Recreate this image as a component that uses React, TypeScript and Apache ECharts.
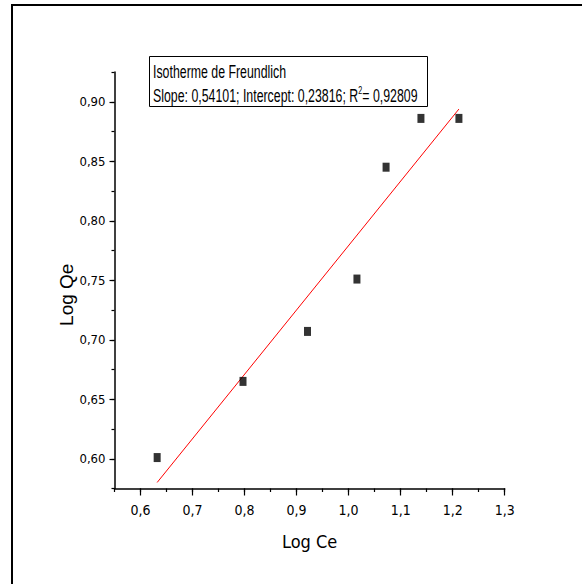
import React, { useEffect, useRef } from "react";
import * as echarts from "echarts";

// Freundlich isotherm points (log scale)
const logCe = [0.632, 0.797, 0.921, 1.016, 1.072, 1.139, 1.212];
const logQe = [0.601, 0.665, 0.707, 0.751, 0.845, 0.886, 0.886];

// Linear fit results
const slope = 0.54101;
const intercept = 0.23816;
const rSquared = 0.92809;

// Axis ranges and tick values
const xRange = [0.55, 1.3];
const yRange = [0.575, 0.925];
const xMajorTicks = [0.6, 0.7, 0.8, 0.9, 1.0, 1.1, 1.2, 1.3];
const yMajorTicks = [0.6, 0.65, 0.7, 0.75, 0.8, 0.85, 0.9];

const titleText = "Isotherme de Freundlich";
const xName = "Log Ce";
const yName = "Log Qe";

const NARROW = "'Liberation Sans Narrow', 'Arial Narrow', 'DejaVu Sans Condensed', sans-serif";
const SANS = "'Liberation Sans', Arial, sans-serif";

const comma = (v: number, d: number) => v.toFixed(d).replace(".", ",");

export default function App() {
  const ref = useRef<HTMLDivElement>(null);

  useEffect(() => {
    if (!ref.current) return;
    const chart = echarts.init(ref.current, null, { renderer: "svg" });

    const points = logCe.map((x, i) => [x, logQe[i]]);
    const x0 = logCe[0];
    const x1 = logCe[logCe.length - 1];
    const fitLine = [
      [x0, intercept + slope * x0],
      [x1, intercept + slope * x1],
    ];

    const axisLine = { show: true, lineStyle: { color: "#000", width: 1.5 } };

    chart.setOption({
      animation: false,
      backgroundColor: "#fff",
      grid: { left: 114.5, right: 77.3, top: 72, bottom: 95.5, containLabel: false },
      xAxis: [
        {
          type: "value",
          position: "bottom",
          min: xRange[0],
          max: xRange[1],
          interval: 0.05,
          axisLine,
          axisTick: { show: true, length: 3.5, lineStyle: { color: "#000", width: 1.2 } },
          axisLabel: { show: false },
          splitLine: { show: false },
          name: xName,
          nameLocation: "middle",
          nameGap: 44,
          nameTextStyle: { fontFamily: NARROW, fontSize: 18, color: "#000" },
        },
        {
          type: "value",
          position: "bottom",
          min: xRange[0],
          max: xRange[1],
          axisLine: { show: false },
          axisTick: {
            show: true,
            length: 7,
            customValues: xMajorTicks,
            lineStyle: { color: "#000", width: 1.2 },
          },
          axisLabel: {
            show: true,
            customValues: xMajorTicks,
            margin: 14,
            fontFamily: NARROW,
            fontSize: 14,
            color: "#000",
            formatter: (v: number) => comma(v, 1),
          },
          splitLine: { show: false },
        },
      ],
      yAxis: [
        {
          type: "value",
          position: "left",
          min: yRange[0],
          max: yRange[1],
          interval: 0.025,
          axisLine,
          axisTick: { show: true, length: 3, lineStyle: { color: "#000", width: 1.2 } },
          axisLabel: { show: false },
          splitLine: { show: false },
          name: yName,
          nameLocation: "middle",
          nameGap: 39,
          nameRotate: 90,
          nameTextStyle: {
            fontFamily: SANS,
            fontSize: 19,
            color: "#000",
            padding: [0, 29, 0, 0],
          },
        },
        {
          type: "value",
          position: "left",
          min: yRange[0],
          max: yRange[1],
          axisLine: { show: false },
          axisTick: {
            show: true,
            length: 5,
            customValues: yMajorTicks,
            lineStyle: { color: "#000", width: 1.2 },
          },
          axisLabel: {
            show: true,
            customValues: yMajorTicks,
            margin: 9,
            fontFamily: NARROW,
            fontSize: 13,
            color: "#000",
            formatter: (v: number) => comma(v, 2),
          },
          splitLine: { show: false },
        },
      ],
      series: [
        {
          type: "line",
          xAxisIndex: 0,
          yAxisIndex: 0,
          data: fitLine,
          showSymbol: false,
          symbol: "none",
          lineStyle: { color: "#ff0000", width: 1 },
          z: 2,
        },
        {
          type: "scatter",
          xAxisIndex: 0,
          yAxisIndex: 0,
          data: points,
          symbol: "rect",
          symbolSize: [7, 9],
          itemStyle: { color: "#000" },
          z: 3,
        },
      ],
      graphic: [
        {
          type: "polyline",
          shape: { points: [[12, 584], [12, 5], [582, 5]] },
          style: { stroke: "#000", lineWidth: 2, fill: "none" },
          silent: true,
        },
        {
          type: "rect",
          shape: { x: 149.5, y: 56.5, width: 278, height: 50 },
          style: { stroke: "#000", lineWidth: 1, fill: "#fff" },
          z: 10,
        },
        {
          type: "text",
          x: 153,
          y: 70.5,
          scaleX: 0.65,
          z: 11,
          style: {
            text: titleText,
            fontFamily: SANS,
            fontSize: 19,
            fill: "#000",
            verticalAlign: "middle",
          },
        },
        {
          type: "text",
          x: 153,
          y: 95,
          scaleX: 0.65,
          z: 11,
          style: {
            text:
              "Slope: " +
              comma(slope, 5) +
              "; Intercept: " +
              comma(intercept, 5) +
              "; R{sup|2}= " +
              comma(rSquared, 5),
            fontFamily: SANS,
            fontSize: 19,
            lineHeight: 20,
            fill: "#000",
            verticalAlign: "middle",
            rich: {
              sup: { fontFamily: SANS, fontSize: 11, lineHeight: 11, verticalAlign: "top", fill: "#000" },
            },
          },
        },
      ],
    });

    return () => chart.dispose();
  }, []);

  return (
    <div
      ref={ref}
      style={{ position: "absolute", left: 0, top: 0, width: 582, height: 584 }}
    />
  );
}
